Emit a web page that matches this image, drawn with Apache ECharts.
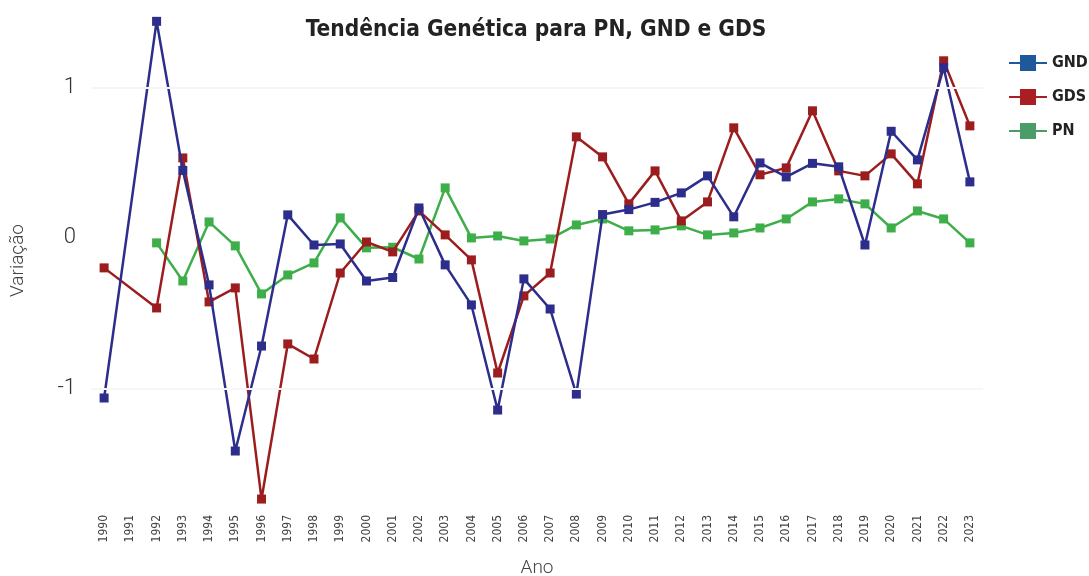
<!DOCTYPE html>
<html><head><meta charset="utf-8">
<script src="https://cdn.jsdelivr.net/npm/echarts@6/dist/echarts.min.js"></script>
<style>html,body{margin:0;padding:0;background:#fff}#c{width:1089px;height:576px}</style>
</head><body><div id="c"></div>
<script>
const years = ['1990','1991','1992','1993','1994','1995','1996','1997','1998','1999','2000','2001','2002','2003','2004','2005','2006','2007','2008','2009','2010','2011','2012','2013','2014','2015','2016','2017','2018','2019','2020','2021','2022','2023'];
const gnd = [-1.063,null,1.438,0.448,-0.312,-1.415,-0.718,0.153,-0.047,-0.040,-0.286,-0.263,0.199,-0.179,-0.445,-1.143,-0.272,-0.472,-1.037,0.155,0.188,0.236,0.299,0.412,0.140,0.498,0.405,0.495,0.472,-0.047,0.708,0.518,1.130,0.372];
const gds = [-0.199,null,-0.465,0.531,-0.425,-0.332,-1.734,-0.704,-0.804,-0.233,-0.027,-0.093,0.179,0.020,-0.146,-0.897,-0.385,-0.233,0.671,0.538,0.226,0.445,0.113,0.239,0.731,0.419,0.465,0.844,0.445,0.412,0.558,0.359,1.176,0.744];
const pn = [null,null,-0.033,-0.286,0.106,-0.053,-0.372,-0.246,-0.166,0.133,-0.066,-0.062,-0.140,0.332,0.000,0.013,-0.020,-0.007,0.086,0.126,0.047,0.053,0.080,0.020,0.033,0.066,0.126,0.239,0.259,0.226,0.066,0.179,0.126,-0.033];
const seriesNames = ['GND','GDS','PN'];
const lineColors = ['#2d2e8c','#9c1d1d','#3dae49'];
const legendColors = ['#1e5a9a','#a81e22','#4a9c68'];
const yTicks = [-1,0,1];

const font = '"DejaVu Sans Condensed",sans-serif';
const chart = echarts.init(document.getElementById('c'));
const datas = [gnd, gds, pn];
chart.setOption({
  backgroundColor:'#fff',
  animation:false,
  title:{text:'Tendência Genética para PN, GND e GDS',left:531,textAlign:'center',top:14,
    textStyle:{fontFamily:font,fontWeight:'bold',fontSize:22.5,color:'#222'}},
  legend:{orient:'vertical',left:1003,top:50,itemWidth:38,itemHeight:20,itemGap:18,
    textStyle:{fontFamily:font,fontWeight:'bold',fontSize:16,color:'#222'},
    data:seriesNames.map((n,i)=>({name:n,itemStyle:{color:legendColors[i]},lineStyle:{color:legendColors[i],width:2}}))},
  grid:{left:91,right:106,top:12,bottom:67,outerBoundsMode:'none'},
  xAxis:{type:'category',data:years,boundaryGap:true,name:'Ano',nameLocation:'middle',nameGap:50,
    nameTextStyle:{fontFamily:'Roboto',fontWeight:300,fontSize:19,color:'#444'},
    axisLine:{show:false},axisTick:{show:false},
    axisLabel:{rotate:90,interval:0,margin:6,fontFamily:font,fontSize:12,color:'#444'}},
  yAxis:{type:'value',min:-1.8,max:1.5,interval:0.1,name:'Variação',nameLocation:'middle',nameGap:63,
    nameTextStyle:{fontFamily:'Roboto',fontWeight:300,fontSize:19,color:'#444'},
    axisLine:{show:false},axisTick:{show:false},
    splitLine:{show:false},
    axisLabel:{margin:15,fontFamily:'Roboto',fontWeight:300,fontSize:22,color:'#333',
      formatter:v=>{const r=Math.round(v);return (Math.abs(v-r)<1e-6 && yTicks.includes(r))?String(r):'';}}},
  series:datas.map((d,i)=>({name:seriesNames[i],type:'line',data:d,connectNulls:true,
    symbol:'rect',symbolSize:9,showSymbol:true,
    itemStyle:{color:lineColors[i]},lineStyle:{color:lineColors[i],width:2.5},
    markLine: i===0 ? {silent:true,symbol:'none',label:{show:false},lineStyle:{color:'#f6f6f6',type:'solid',width:2},
      data:yTicks.filter(t=>t!==0).map(t=>({yAxis:t}))} : undefined,
    z: 3-i}))
});
</script></body></html>
